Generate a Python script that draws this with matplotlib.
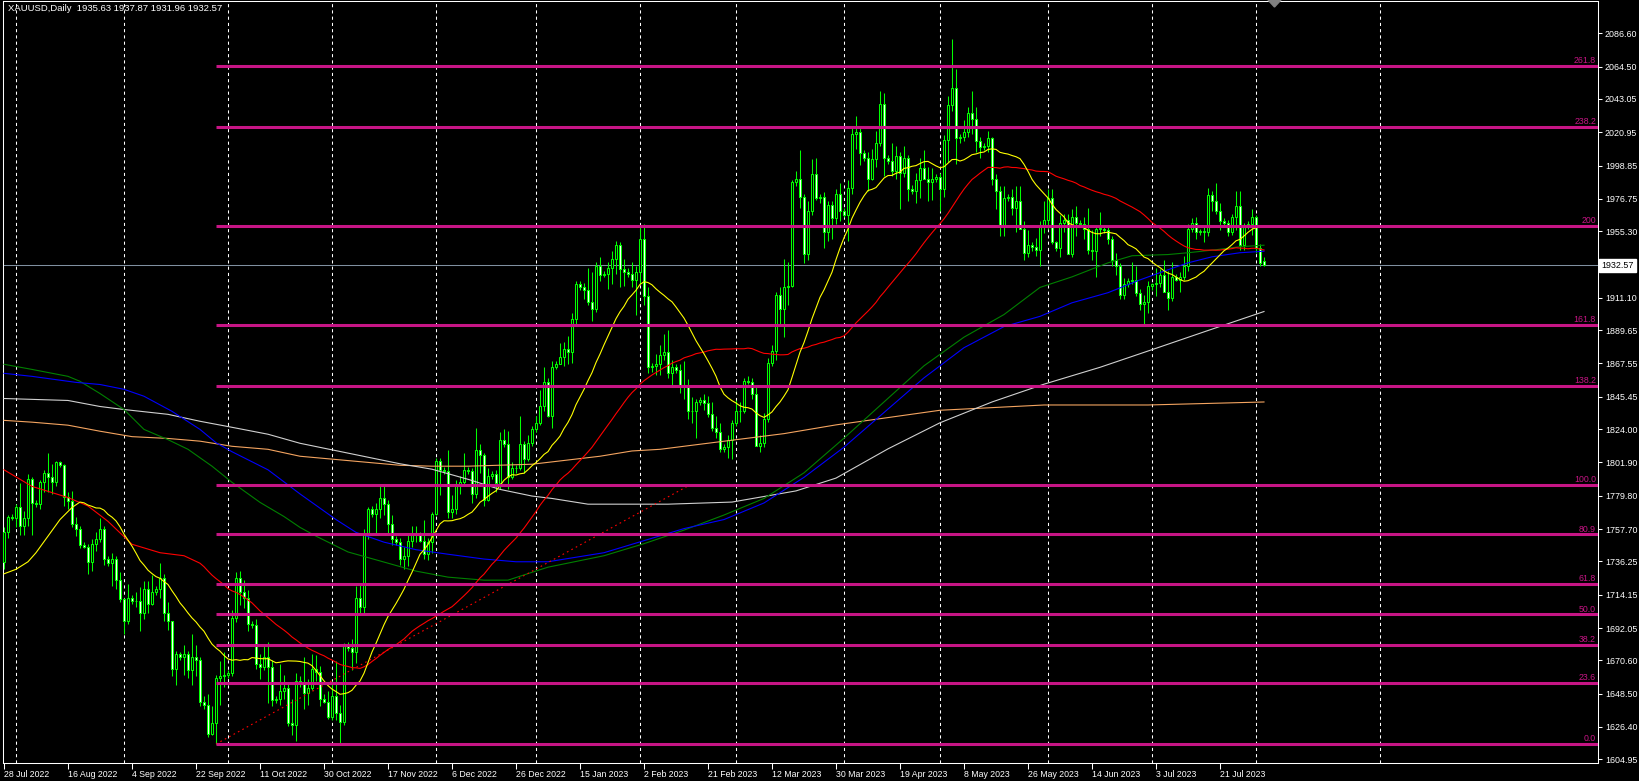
import matplotlib
matplotlib.use("Agg")
import matplotlib.pyplot as plt
from matplotlib.patches import Polygon
import numpy as np
import pandas as pd

plt.rcParams['font.family'] = ['Liberation Sans', 'DejaVu Sans']

# XAUUSD daily bars, bar 0 = 28 Jul 2022 (broker has Sunday bars)
opens = [1736, 1756, 1766, 1765, 1772, 1760, 1765, 1791, 1775, 1774,
         1789, 1795, 1792, 1789, 1802, 1800, 1779, 1776, 1761, 1758,
         1747, 1746, 1736, 1748, 1751, 1758, 1738, 1735, 1738, 1724,
         1711, 1697, 1712, 1710, 1710, 1702, 1718, 1708, 1716, 1718,
         1725, 1702, 1697, 1665, 1675, 1673, 1675, 1664, 1673, 1671,
         1643, 1641, 1622, 1629, 1659, 1660, 1661, 1662, 1699, 1725,
         1716, 1712, 1695, 1694, 1668, 1666, 1673, 1666, 1644, 1645,
         1650, 1652, 1629, 1628, 1657, 1655, 1649, 1652, 1665, 1663,
         1645, 1643, 1633, 1647, 1636, 1630, 1681, 1679, 1676, 1712,
         1706, 1755, 1771, 1768, 1771, 1778, 1774, 1761, 1751, 1749,
         1738, 1740, 1750, 1755, 1754, 1750, 1741, 1749, 1768, 1803,
         1797, 1796, 1769, 1771, 1786, 1789, 1797, 1796, 1781, 1810,
         1807, 1777, 1793, 1794, 1788, 1817, 1814, 1792, 1798, 1798,
         1814, 1804, 1815, 1824, 1828, 1839, 1855, 1833, 1865, 1867,
         1872, 1877, 1875, 1897, 1920, 1918, 1916, 1908, 1904, 1932,
         1926, 1927, 1931, 1937, 1946, 1930, 1928, 1927, 1923, 1928,
         1950, 1912, 1865, 1866, 1867, 1873, 1875, 1861, 1865, 1863,
         1853, 1853, 1836, 1836, 1842, 1843, 1841, 1834, 1825, 1822,
         1811, 1812, 1817, 1828, 1836, 1836, 1856, 1855, 1847, 1813,
         1815, 1831, 1868, 1876, 1913, 1904, 1918, 1919, 1988, 1990,
         1978, 1940, 1969, 1993, 1977, 1978, 1955, 1973, 1964, 1980,
         1969, 1966, 1984, 2020, 2021, 2007, 2004, 1990, 2003, 2014,
         2040, 2004, 2002, 1995, 2005, 1994, 2004, 1983, 1982, 1989,
         1997, 1990, 1988, 1990, 1991, 1983, 2016, 2039, 2050, 2017,
         2018, 2021, 2034, 2030, 2015, 2011, 2012, 2017, 1990, 1982,
         1958, 1977, 1978, 1971, 1975, 1957, 1941, 1946, 1945, 1943,
         1959, 1963, 1977, 1948, 1944, 1961, 1963, 1940, 1965, 1961,
         1960, 1957, 1943, 1942, 1957, 1957, 1956, 1950, 1936, 1932,
         1913, 1920, 1922, 1923, 1914, 1907, 1908, 1919, 1920, 1921,
         1926, 1915, 1911, 1925, 1923, 1925, 1932, 1957, 1961, 1955,
         1955, 1955, 1979, 1975, 1969, 1962, 1961, 1955, 1965, 1972,
         1946, 1959, 1960, 1965, 1944, 1935.63]
highs = [1759, 1767, 1768, 1774, 1788, 1770, 1794, 1792, 1777, 1790,
         1797, 1808, 1801, 1803, 1803, 1801, 1782, 1783, 1766, 1760,
         1749, 1748, 1751, 1756, 1765, 1760, 1740, 1742, 1740, 1729,
         1712, 1721, 1714, 1716, 1719, 1723, 1723, 1727, 1720, 1735,
         1728, 1709, 1697, 1677, 1676, 1681, 1677, 1688, 1681, 1673,
         1647, 1648, 1640, 1661, 1670, 1676, 1664, 1704, 1729, 1730,
         1724, 1717, 1697, 1698, 1675, 1680, 1683, 1671, 1647, 1668,
         1661, 1656, 1645, 1662, 1660, 1673, 1658, 1675, 1674, 1667,
         1648, 1650, 1657, 1670, 1641, 1682, 1683, 1685, 1720, 1722,
         1758, 1772, 1773, 1775, 1787, 1786, 1777, 1767, 1753, 1752,
         1746, 1755, 1760, 1760, 1756, 1764, 1752, 1769, 1805, 1805,
         1799, 1810, 1780, 1790, 1793, 1808, 1799, 1798, 1825, 1814,
         1808, 1798, 1796, 1797, 1822, 1824, 1823, 1802, 1800, 1833,
         1816, 1820, 1826, 1833, 1850, 1865, 1858, 1869, 1869, 1881,
         1882, 1886, 1901, 1922, 1922, 1921, 1931, 1928, 1935, 1938,
         1929, 1935, 1942, 1949, 1948, 1937, 1931, 1935, 1932, 1959,
         1960, 1918, 1868, 1874, 1880, 1887, 1890, 1870, 1867, 1867,
         1869, 1857, 1845, 1844, 1845, 1847, 1846, 1842, 1833, 1828,
         1814, 1820, 1830, 1843, 1842, 1858, 1859, 1858, 1853, 1820,
         1835, 1871, 1880, 1915, 1918, 1937, 1935, 1989, 1995, 2009,
         1980, 1975, 2003, 2004, 1980, 1981, 1975, 1975, 1983, 1987,
         1971, 1989, 2025, 2032, 2024, 2009, 2008, 2010, 2022, 2048,
         2047, 2006, 2014, 2012, 2008, 2012, 2006, 1986, 1994, 2004,
         2009, 1998, 1997, 1993, 1994, 2019, 2045, 2083, 2063, 2020,
         2029, 2038, 2048, 2038, 2018, 2014, 2022, 2018, 1993, 1985,
         1985, 1980, 1983, 1985, 1985, 1962, 1956, 1948, 1951, 1962,
         1975, 1983, 1983, 1949, 1966, 1967, 1967, 1970, 1972, 1963,
         1965, 1971, 1956, 1959, 1968, 1959, 1958, 1952, 1941, 1934,
         1924, 1924, 1935, 1932, 1917, 1913, 1922, 1921, 1931, 1930,
         1936, 1929, 1935, 1927, 1928, 1939, 1960, 1964, 1965, 1957,
         1959, 1984, 1982, 1987, 1974, 1964, 1963, 1967, 1982, 1982,
         1961, 1962, 1970, 1966, 1947, 1937.87]
lows = [1731, 1752, 1764, 1759, 1754, 1754, 1760, 1754, 1772, 1771,
        1782, 1782, 1781, 1786, 1799, 1773, 1771, 1759, 1753, 1745,
        1745, 1728, 1730, 1743, 1749, 1734, 1733, 1720, 1718, 1709,
        1688, 1695, 1708, 1706, 1690, 1698, 1702, 1707, 1714, 1712,
        1697, 1691, 1660, 1654, 1671, 1661, 1659, 1654, 1660, 1640,
        1638, 1620, 1621, 1615, 1641, 1653, 1659, 1660, 1696, 1707,
        1705, 1690, 1692, 1665, 1658, 1664, 1642, 1640, 1642, 1641,
        1645, 1627, 1621, 1617, 1653, 1638, 1641, 1651, 1657, 1640,
        1642, 1632, 1631, 1631, 1616, 1628, 1677, 1664, 1669, 1701,
        1702, 1751, 1766, 1755, 1765, 1767, 1754, 1747, 1747, 1734,
        1731, 1733, 1746, 1749, 1749, 1738, 1737, 1742, 1767, 1780,
        1794, 1765, 1765, 1768, 1781, 1787, 1794, 1775, 1778, 1795,
        1773, 1776, 1791, 1782, 1784, 1812, 1784, 1791, 1795, 1797,
        1795, 1803, 1813, 1822, 1827, 1836, 1832, 1825, 1864, 1867,
        1866, 1867, 1868, 1894, 1916, 1910, 1906, 1896, 1902, 1922,
        1925, 1917, 1920, 1927, 1918, 1919, 1925, 1918, 1900, 1920,
        1906, 1861, 1862, 1860, 1860, 1870, 1858, 1853, 1861, 1848,
        1844, 1831, 1828, 1818, 1840, 1837, 1832, 1823, 1818, 1809,
        1809, 1805, 1804, 1826, 1829, 1835, 1854, 1844, 1813, 1809,
        1812, 1829, 1866, 1870, 1893, 1885, 1906, 1918, 1985, 1971,
        1934, 1936, 1966, 1976, 1974, 1944, 1949, 1950, 1960, 1962,
        1965, 1949, 1980, 2010, 1999, 2002, 1982, 1989, 1998, 2012,
        1992, 2000, 1992, 1990, 1970, 1991, 1975, 1980, 1974, 1977,
        1990, 1975, 1976, 1988, 1969, 1978, 2001, 2035, 2000, 2014,
        2015, 2018, 2020, 2008, 2004, 2009, 2008, 1986, 1970, 1952,
        1952, 1975, 1966, 1955, 1957, 1936, 1938, 1942, 1939, 1932,
        1954, 1957, 1947, 1942, 1938, 1955, 1940, 1938, 1952, 1958,
        1950, 1940, 1936, 1925, 1952, 1954, 1947, 1932, 1926, 1910,
        1910, 1918, 1920, 1912, 1903, 1893, 1901, 1916, 1912, 1918,
        1915, 1903, 1909, 1922, 1915, 1923, 1929, 1955, 1950, 1953,
        1948, 1952, 1969, 1967, 1956, 1959, 1952, 1953, 1956, 1943,
        1943, 1957, 1953, 1941, 1932, 1931.96]
closes = [1756, 1766, 1765, 1772, 1760, 1765, 1791, 1775, 1774, 1789,
          1795, 1792, 1789, 1802, 1800, 1779, 1776, 1761, 1758, 1747,
          1746, 1736, 1748, 1751, 1758, 1738, 1735, 1738, 1724, 1711,
          1697, 1712, 1710, 1710, 1702, 1718, 1708, 1716, 1718, 1725,
          1702, 1697, 1665, 1675, 1673, 1675, 1664, 1673, 1671, 1643,
          1641, 1622, 1629, 1659, 1660, 1661, 1662, 1699, 1725, 1716,
          1712, 1695, 1694, 1668, 1666, 1673, 1666, 1644, 1645, 1650,
          1652, 1629, 1628, 1657, 1655, 1649, 1652, 1665, 1663, 1645,
          1643, 1633, 1647, 1636, 1630, 1681, 1679, 1676, 1712, 1706,
          1755, 1771, 1768, 1771, 1778, 1774, 1761, 1751, 1749, 1738,
          1740, 1750, 1755, 1754, 1750, 1741, 1749, 1768, 1803, 1797,
          1796, 1769, 1771, 1786, 1789, 1797, 1796, 1781, 1810, 1807,
          1777, 1793, 1794, 1788, 1817, 1814, 1792, 1798, 1798, 1814,
          1804, 1815, 1824, 1828, 1839, 1855, 1833, 1865, 1867, 1872,
          1877, 1875, 1897, 1920, 1918, 1916, 1908, 1904, 1932, 1926,
          1927, 1931, 1937, 1946, 1930, 1928, 1927, 1923, 1928, 1950,
          1912, 1865, 1866, 1867, 1873, 1875, 1861, 1865, 1863, 1853,
          1853, 1836, 1836, 1842, 1843, 1841, 1834, 1825, 1822, 1811,
          1812, 1817, 1828, 1836, 1836, 1856, 1855, 1847, 1813, 1815,
          1831, 1868, 1876, 1913, 1904, 1918, 1919, 1988, 1990, 1978,
          1940, 1969, 1993, 1977, 1978, 1955, 1973, 1964, 1980, 1969,
          1966, 1984, 2020, 2021, 2007, 2004, 1990, 2003, 2014, 2040,
          2004, 2002, 1995, 2005, 1994, 2004, 1983, 1982, 1989, 1997,
          1990, 1988, 1990, 1991, 1983, 2016, 2039, 2050, 2017, 2018,
          2021, 2034, 2030, 2015, 2011, 2012, 2017, 1990, 1982, 1958,
          1977, 1978, 1971, 1975, 1957, 1941, 1946, 1945, 1943, 1959,
          1963, 1977, 1948, 1944, 1961, 1963, 1940, 1965, 1961, 1960,
          1957, 1943, 1942, 1957, 1957, 1956, 1950, 1936, 1932, 1913,
          1920, 1922, 1923, 1914, 1907, 1908, 1919, 1920, 1921, 1926,
          1915, 1911, 1925, 1923, 1925, 1932, 1957, 1961, 1955, 1955,
          1955, 1979, 1975, 1969, 1962, 1961, 1955, 1965, 1972, 1946,
          1959, 1960, 1965, 1944, 1934, 1932.57]

# moving averages: start values (before enough history)
ma20_head_bars = [0, 3, 6, 8, 11, 14, 17]
ma20_head = [1728, 1731, 1736, 1742, 1753, 1764, 1772]
ma50_head_bars = [0, 7, 16, 21, 26, 32, 39, 45]
ma50_head = [1797, 1786, 1778.6, 1773, 1762.8, 1747.6, 1742, 1740]

# long averages
green_bars = [0, 7, 16, 19, 24, 30, 35, 41, 46, 52, 57, 64, 70, 74, 78, 86, 95, 103,
              111, 120, 126, 132, 136, 150, 160, 170, 180, 190, 200, 210, 220, 230,
              240, 250, 259, 267, 276, 282, 291, 296, 303, 309, 315]
green_vals = [1867, 1863.6, 1859, 1855.7, 1847.6, 1837, 1823.8, 1817, 1810.6, 1799.4,
              1788.7, 1775.4, 1766, 1758.8, 1753, 1742.5, 1735.8, 1729.8, 1725.8, 1723.8,
              1723.8, 1729, 1732.4, 1740, 1748, 1757, 1767, 1778, 1795, 1818, 1842, 1866,
              1885, 1900, 1918, 1925, 1934.3, 1939, 1939.8, 1941, 1943, 1945, 1946]
blue_bars = [0, 7, 18, 24, 30, 35, 42, 49, 53, 57, 66, 74, 83, 88, 95, 103, 111, 120,
             128, 136, 150, 160, 170, 180, 190, 200, 210, 220, 230, 240, 250, 259, 267,
             276, 284, 291, 296, 302, 309, 315]
blue_vals = [1861, 1859, 1855, 1853.6, 1850.4, 1845.8, 1835.8, 1823.8, 1815, 1809,
             1797, 1781, 1764, 1755.5, 1749, 1744, 1741, 1737.8, 1736, 1736, 1742, 1750,
             1758, 1764, 1775, 1792, 1812, 1835, 1858, 1878, 1892, 1898.8, 1907.8,
             1914.5, 1923, 1929.7, 1934.3, 1938.3, 1941, 1942]
white_bars = [0, 16, 24, 30, 41, 49, 57, 66, 74, 99, 107, 116, 124, 132, 137, 146, 166,
              182, 198, 208, 221, 234, 247, 260, 274, 287, 300, 315]
white_vals = [1844.3, 1843, 1839, 1837, 1833.8, 1829.2, 1825.2, 1820.6, 1814.6, 1801,
              1797.4, 1790.7, 1784, 1779.6, 1778, 1774.2, 1774.2, 1775.6, 1783, 1791.5,
              1810.9, 1828.2, 1842, 1853.8, 1865, 1876.7, 1888.5, 1902]
orange_bars = [0, 7, 16, 24, 32, 41, 49, 57, 66, 74, 99, 107, 116, 132, 149, 157, 164,
               195, 208, 234, 260, 286, 315]
orange_vals = [1829.8, 1828.6, 1826.6, 1822.6, 1819, 1817.8, 1816, 1812.6, 1810.6, 1806,
               1800, 1799.4, 1799.4, 1800.7, 1806, 1809.5, 1810.6, 1821, 1826.8, 1836.5,
               1840, 1840, 1842]

date_bars = [0, 16, 32, 48, 64, 80, 96, 112, 128, 144, 160, 176, 192, 208, 224, 240,
             256, 272, 288, 304]
date_labels = ['28 Jul 2022', '16 Aug 2022', '4 Sep 2022', '22 Sep 2022', '11 Oct 2022',
               '30 Oct 2022', '17 Nov 2022', '6 Dec 2022', '26 Dec 2022', '15 Jan 2023',
               '2 Feb 2023', '21 Feb 2023', '12 Mar 2023', '30 Mar 2023', '19 Apr 2023',
               '8 May 2023', '26 May 2023', '14 Jun 2023', '3 Jul 2023', '21 Jul 2023']
month_bars = [3, 30, 56, 82, 108, 133, 159, 183, 210, 234, 261, 287, 313, 344]
price_ticks = [2086.60, 2064.50, 2043.05, 2020.95, 1998.85, 1976.75, 1955.30, 1911.10,
               1889.65, 1867.55, 1845.45, 1824.00, 1801.90, 1779.80, 1757.70, 1736.25,
               1714.15, 1692.05, 1670.60, 1648.50, 1626.40, 1604.95]

fib_levels = [0.0, 23.6, 38.2, 50.0, 61.8, 80.9, 100.0, 138.2, 161.8, 200, 238.2, 261.8]
fib_names = ['0.0', '23.6', '38.2', '50.0', '61.8', '80.9', '100.0', '138.2', '161.8',
             '200', '238.2', '261.8']
fib_low = 1615.1
fib_high = 1787.0
fib_start_bar = 53
fib_end_bar = 171.5
last_price = 1932.57

lime = '#00FF00'
fibc = '#C71585'

fig = plt.figure(figsize=(16.4, 7.81), dpi=100, facecolor='black')
ax = fig.add_axes([3/1640, 18/781, 1595/1640, 762/781])
ax.set_facecolor('black')
ax.set_xlim(-0.25, 398.5)
ax.set_ylim(1602.5, 2108.0)

# month grid
ax.vlines(month_bars, 1602.5, 2108.0, colors='white', linestyles=(0, (3, 3)), lw=0.75, zorder=1)

# current price line
ax.axhline(last_price, color='#8090A0', lw=0.75, zorder=2)

# candles
o = np.array(opens); c = np.array(closes)
x = np.arange(len(c))
ax.vlines(x, lows, highs, colors=lime, lw=0.75, zorder=3)
up = c >= o
ax.bar(x, np.maximum(np.abs(c - o), 0.3), bottom=np.minimum(o, c), width=0.5,
       color=np.where(up, 'black', 'white'), edgecolor=lime, linewidth=0.75, zorder=4)

# moving averages
cl = pd.Series(closes)
ma20 = cl.rolling(20).mean()
ma50 = cl.rolling(50).mean()
ax.plot(orange_bars, orange_vals, color='#F4A460', lw=0.8, zorder=5)
ax.plot(white_bars, white_vals, color='#D0D0D0', lw=0.8, zorder=5)
ax.plot(green_bars, green_vals, color='#008000', lw=0.8, zorder=5)
ax.plot(blue_bars, blue_vals, color='#0000FF', lw=0.8, zorder=5)
ax.plot(ma50_head_bars + list(range(49, len(c))), ma50_head + list(ma50[49:]),
        color='#FF0000', lw=0.8, zorder=5)
ax.plot(ma20_head_bars + list(range(19, len(c))), ma20_head + list(ma20[19:]),
        color='#FFFF00', lw=0.8, zorder=5)

# fibonacci
ax.plot([fib_start_bar, fib_end_bar], [fib_low, fib_high], color='#FF0000', lw=0.8,
        linestyle=(0, (1.5, 3)), zorder=6)
for lvl, name in zip(fib_levels, fib_names):
    p = fib_low + lvl / 100 * (fib_high - fib_low)
    ax.hlines(p, fib_start_bar, 398.5, colors=fibc, lw=2.2, zorder=6)
    ax.text(398.0, p + 1.9, name, ha='right', va='baseline', color=fibc, fontsize=6.3, zorder=7)

for s in ax.spines.values():
    s.set_color('white')
    s.set_linewidth(0.75)

ax.yaxis.tick_right()
ax.set_yticks(price_ticks)
ax.set_yticklabels([f'{v:.2f}' for v in price_ticks])
ax.tick_params(axis='y', colors='white', length=3, width=0.75, labelsize=6.4, pad=2)
ax.set_xticks(date_bars)
ax.set_xticklabels(date_labels, ha='left')
ax.tick_params(axis='x', colors='white', length=4, width=0.75, labelsize=6.3, pad=1)

ax.text(1.002, last_price, f'{last_price:.2f}', transform=ax.get_yaxis_transform(),
        ha='left', va='center', fontsize=6.4, color='black', clip_on=False, zorder=10,
        bbox=dict(boxstyle='square,pad=0.25', fc='white', ec='white'))

fig.text(8/1640, 1 - 8.5/781, 'XAUUSD,Daily  1935.63 1937.87 1931.96 1932.57',
         color='white', fontsize=6.8, ha='left', va='center')
fig.patches.append(Polygon([[1268/1640, 1], [1281/1640, 1], [1274.5/1640, 1 - 7/781]],
                           closed=True, transform=fig.transFigure, color='#808080'))

fig.savefig('out.png', dpi=100, facecolor='black')
